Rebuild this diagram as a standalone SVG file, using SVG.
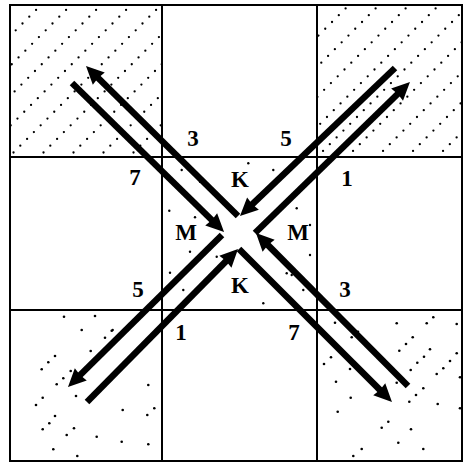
<svg xmlns="http://www.w3.org/2000/svg" width="464" height="464" viewBox="0 0 464 464">
<style>
.grid{fill:none;stroke:#000;stroke-width:2}
.hatch{fill:none;stroke:#000;stroke-width:2.3;stroke-linecap:round;stroke-dasharray:0 9.6}
.dot{fill:#000}
.arrow{fill:none;stroke:#000;stroke-width:6.5;stroke-linecap:butt;marker-end:url(#head)}
.lbl{font-family:"Liberation Serif","Times New Roman",serif;font-weight:bold;font-size:23px;text-anchor:middle;fill:#000}
</style>
<defs>
<marker id="head" markerUnits="userSpaceOnUse" viewBox="-10 -10 22 20" markerWidth="22" markerHeight="20" refX="0" refY="0" orient="auto" overflow="visible">
<path d="M10,0 L-8,-8.5 L-7,0 L-8,8.5 Z" fill="#000"/>
</marker>
<clipPath id="cTL"><rect x="11" y="6" width="150" height="150"/></clipPath>
<clipPath id="cTR"><rect x="318" y="6" width="143" height="150"/></clipPath>
</defs>
<rect width="464" height="464" fill="#fff"/>
<g id="hatching">
<path class="hatch" clip-path="url(#cTL)" d="M-154,200 L200,-154 M-124,200 L200,-124 M-94,200 L200,-94 M-64,200 L200,-64 M-34,200 L200,-34 M-4,200 L200,-4 M26,200 L200,26 M56,200 L200,56 M86,200 L200,86 M116,200 L200,116"/>
<path class="hatch" clip-path="url(#cTR)" d="M-146,470 L470,-146 M-116,470 L470,-116 M-86,470 L470,-86 M-56,470 L470,-56 M-26,470 L470,-26 M4,470 L470,4 M34,470 L470,34 M64,470 L470,64 M94,470 L470,94 M124,470 L470,124"/>
<g class="dot">
<circle cx="64" cy="316.7" r="1.3"/><circle cx="95" cy="316" r="1.3"/><circle cx="81.7" cy="330" r="1.3"/><circle cx="111.7" cy="330.7" r="1.3"/><circle cx="105" cy="337.7" r="1.3"/><circle cx="90.7" cy="351" r="1.3"/><circle cx="55" cy="356" r="1.3"/><circle cx="48.3" cy="362.3" r="1.3"/><circle cx="41.7" cy="369.3" r="1.3"/><circle cx="70.7" cy="371" r="1.3"/><circle cx="63.3" cy="378.3" r="1.3"/><circle cx="56.7" cy="384.3" r="1.3"/><circle cx="76" cy="396" r="1.3"/><circle cx="42.7" cy="397.7" r="1.3"/><circle cx="36" cy="405" r="1.3"/><circle cx="55" cy="416" r="1.3"/><circle cx="49.3" cy="423.3" r="1.3"/><circle cx="42.7" cy="429.3" r="1.3"/><circle cx="74" cy="428.3" r="1.3"/><circle cx="66.7" cy="435" r="1.3"/><circle cx="96.7" cy="436.7" r="1.3"/><circle cx="53.3" cy="449.3" r="1.3"/><circle cx="77.3" cy="456" r="1.3"/><circle cx="121.7" cy="441.7" r="1.3"/><circle cx="148.3" cy="444.3" r="1.3"/><circle cx="147.3" cy="415" r="1.3"/><circle cx="154.3" cy="408.3" r="1.3"/><circle cx="122.7" cy="410" r="1.3"/><circle cx="148.3" cy="385" r="1.3"/>
<circle cx="335" cy="322.7" r="1.3"/><circle cx="396.7" cy="323.3" r="1.3"/><circle cx="426.7" cy="323.3" r="1.3"/><circle cx="433.3" cy="317.3" r="1.3"/><circle cx="456.7" cy="324" r="1.3"/><circle cx="351.7" cy="337.3" r="1.3"/><circle cx="358" cy="331.7" r="1.3"/><circle cx="412.7" cy="337.3" r="1.3"/><circle cx="406" cy="344" r="1.3"/><circle cx="399.3" cy="350.7" r="1.3"/><circle cx="430" cy="349.3" r="1.3"/><circle cx="456.7" cy="353.3" r="1.3"/><circle cx="424" cy="356.7" r="1.3"/><circle cx="417.3" cy="362.7" r="1.3"/><circle cx="410.7" cy="370" r="1.3"/><circle cx="450" cy="361" r="1.3"/><circle cx="443.3" cy="368.3" r="1.3"/><circle cx="436.7" cy="374" r="1.3"/><circle cx="460" cy="377.3" r="1.3"/><circle cx="423.3" cy="388.3" r="1.3"/><circle cx="416" cy="395" r="1.3"/><circle cx="409.3" cy="401.7" r="1.3"/><circle cx="437.7" cy="404" r="1.3"/><circle cx="460" cy="408.3" r="1.3"/><circle cx="324" cy="364" r="1.3"/><circle cx="331" cy="357.3" r="1.3"/><circle cx="350" cy="369" r="1.3"/><circle cx="336" cy="381.7" r="1.3"/><circle cx="350.7" cy="397.7" r="1.3"/><circle cx="337.7" cy="411.7" r="1.3"/><circle cx="396.7" cy="382.7" r="1.3"/><circle cx="388.3" cy="421.7" r="1.3"/><circle cx="381.7" cy="427.7" r="1.3"/><circle cx="411" cy="429.3" r="1.3"/><circle cx="398.3" cy="442.7" r="1.3"/><circle cx="423.3" cy="449" r="1.3"/><circle cx="361.7" cy="449" r="1.3"/><circle cx="353.3" cy="456" r="1.3"/>
<circle cx="248.3" cy="163.3" r="1.2"/><circle cx="273.3" cy="170" r="1.2"/><circle cx="181.7" cy="170" r="1.2"/><circle cx="200" cy="181.7" r="1.2"/><circle cx="169.3" cy="210.7" r="1.2"/><circle cx="195" cy="217.3" r="1.2"/><circle cx="296.7" cy="208.3" r="1.2"/><circle cx="310" cy="225" r="1.2"/><circle cx="190" cy="251.7" r="1.2"/><circle cx="310" cy="255" r="1.2"/><circle cx="216.7" cy="256.7" r="1.2"/><circle cx="170" cy="272.7" r="1.2"/><circle cx="183.3" cy="290" r="1.2"/><circle cx="303.3" cy="290" r="1.2"/><circle cx="286.7" cy="273.3" r="1.2"/><circle cx="263.3" cy="303.3" r="1.2"/><circle cx="112.7" cy="330" r="1.2"/><circle cx="291.7" cy="275" r="1.2"/>
</g>
</g>
<g id="grid">
<rect class="grid" x="10" y="5" width="452" height="456"/>
<line class="grid" x1="162" y1="5" x2="162" y2="461"/>
<line class="grid" x1="317" y1="5" x2="317" y2="461"/>
<line class="grid" x1="10" y1="157" x2="462" y2="157"/>
<line class="grid" x1="10" y1="310" x2="462" y2="310"/>
</g>
<g id="connectors">
<path id="nw-out" class="arrow" d="M238,216 L93.1,73"/>
<path id="nw-in" class="arrow" d="M72,83 L216.9,225"/>
<path id="ne-in" class="arrow" d="M395,68 L247.2,209.1"/>
<path id="ne-out" class="arrow" d="M255,233 L402.8,89"/>
<path id="sw-out" class="arrow" d="M222,235 L75.1,380"/>
<path id="sw-in" class="arrow" d="M87,402 L231,256.1"/>
<path id="se-in" class="arrow" d="M408,386 L263,240.1"/>
<path id="se-out" class="arrow" d="M239,249 L384.9,394.9"/>
</g>
<g id="labels">
<text class="lbl" x="193" y="146">3</text>
<text class="lbl" x="286" y="146">5</text>
<text class="lbl" x="135" y="185">7</text>
<text class="lbl" x="240" y="187">K</text>
<text class="lbl" x="347" y="186">1</text>
<text class="lbl" x="186" y="240">M</text>
<text class="lbl" x="298" y="240">M</text>
<text class="lbl" x="138" y="297">5</text>
<text class="lbl" x="240" y="293">K</text>
<text class="lbl" x="345" y="297">3</text>
<text class="lbl" x="181" y="340">1</text>
<text class="lbl" x="294" y="340">7</text>
</g>
</svg>
